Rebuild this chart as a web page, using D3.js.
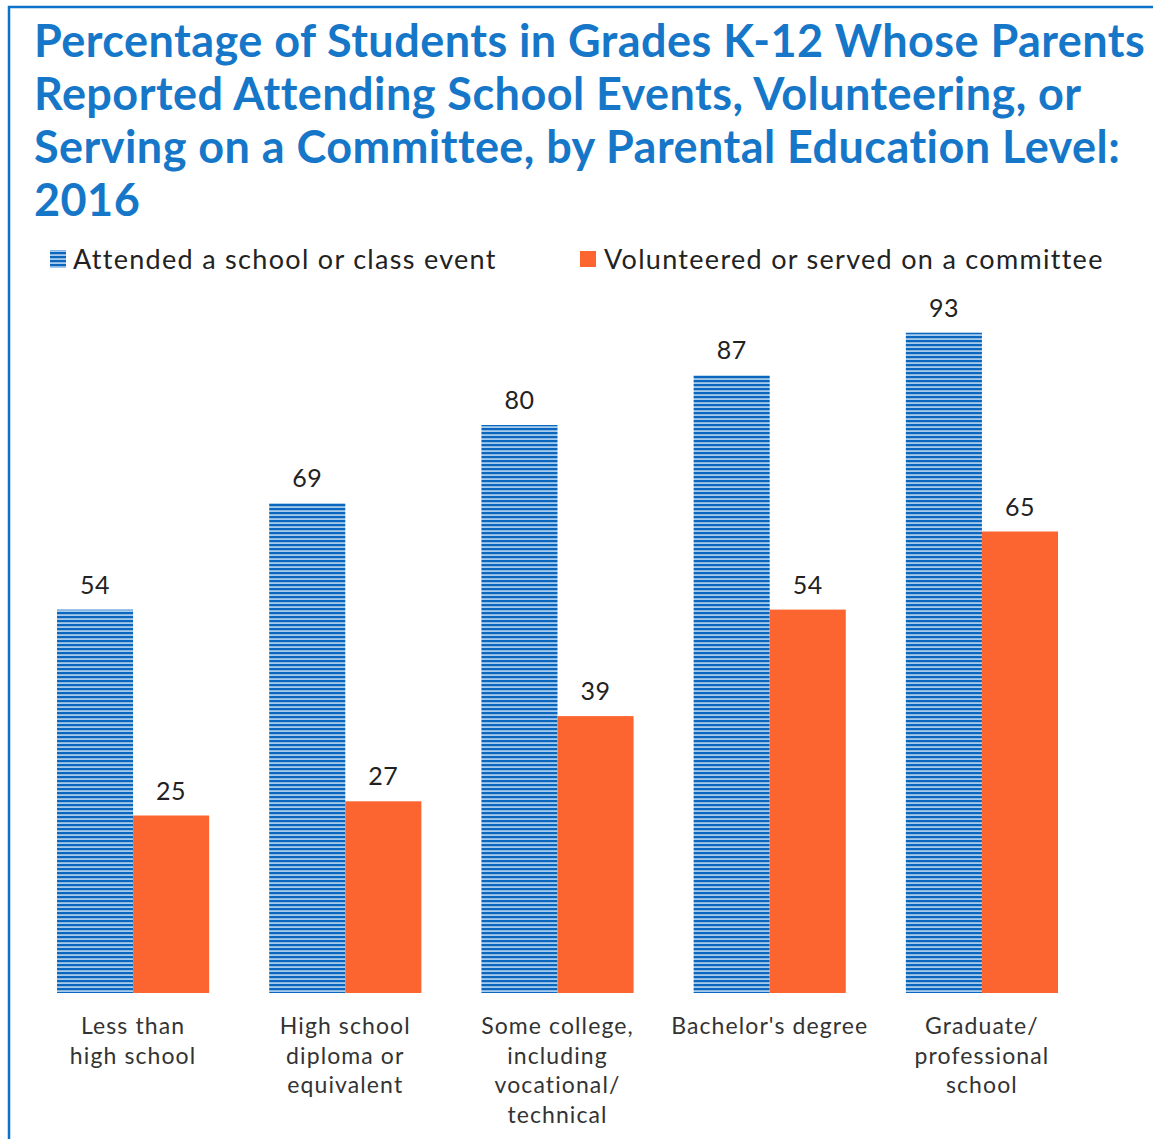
<!DOCTYPE html>
<html><head><meta charset="utf-8">
<script src="https://cdn.jsdelivr.net/npm/d3@7"></script>
<style>
html,body{margin:0;padding:0;background:#fff;}
svg{display:block;}
text{font-family:Lato,"Open Sans",sans-serif;}
</style></head>
<body>
<script>
const titleLines = ["Percentage of Students in Grades K-12 Whose Parents",
  "Reported Attending School Events, Volunteering, or",
  "Serving on a Committee, by Parental Education Level:",
  "2016"];
const categories = ["Less than|high school", "High school|diploma or|equivalent",
  "Some college,|including|vocational/|technical", "Bachelor's degree",
  "Graduate/|professional|school"];
const seriesNames = ["Attended a school or class event", "Volunteered or served on a committee"];
const attended = [54, 69, 80, 87, 93];
const volunteered = [25, 27, 39, 54, 65];

const W = 1153, H = 1139;
const svg = d3.select("body").append("svg").attr("width", W).attr("height", H);

const defs = svg.append("defs");
const pat = defs.append("pattern").attr("id","stripes").attr("patternUnits","userSpaceOnUse")
  .attr("width", 8).attr("height", 4);
pat.append("rect").attr("width",8).attr("height",4).attr("fill","#a6cbec");
pat.append("rect").attr("y",0).attr("width",8).attr("height",2.2).attr("fill","#0b66bd");

// frame
svg.append("rect").attr("x",9).attr("y",7).attr("width",W+20).attr("height",H+20)
  .attr("fill","none").attr("stroke","#0a72c8").attr("stroke-width",2.5);

// title
svg.append("g").selectAll("text").data(titleLines).join("text")
  .attr("x", 34).attr("y", (d,i)=>57 + i*53)
  .attr("fill","#1677c9").attr("font-weight","bold").attr("font-size",45)
  .attr("letter-spacing","0.45")
  .text(d=>d);

// legend
const leg = svg.append("g");
leg.append("rect").attr("x",50).attr("y",250).attr("width",16).attr("height",18).attr("fill","url(#stripes)");
leg.append("text").attr("x",73).attr("y",269).attr("font-size",27).attr("letter-spacing","1.3").attr("fill","#222").text(seriesNames[0]);
leg.append("rect").attr("x",580).attr("y",251).attr("width",16).attr("height",16).attr("fill","#fc6530");
leg.append("text").attr("x",604).attr("y",269).attr("font-size",27).attr("letter-spacing","1.3").attr("fill","#222").text(seriesNames[1]);

// scales
const x0 = d3.scaleBand().domain(d3.range(categories.length)).range([57, 1058]).paddingInner(0.283).paddingOuter(0);
const x1 = d3.scaleBand().domain([0,1]).range([0, x0.bandwidth()]);
const y = d3.scaleLinear().domain([0, 100]).range([993, 283]);

const series = [attended, volunteered];
const fills = ["url(#stripes)", "#fc6530"];
const g = svg.append("g");
series.forEach((vals, s) => {
  g.selectAll(".b"+s).data(vals).join("rect")
    .attr("x", (d,i)=>x0(i)+x1(s)).attr("y", d=>y(d))
    .attr("width", x1.bandwidth()).attr("height", d=>y(0)-y(d))
    .attr("fill", fills[s]);
  g.selectAll(".l"+s).data(vals).join("text")
    .attr("x", (d,i)=>x0(i)+x1(s)+x1.bandwidth()/2).attr("y", d=>y(d)-16)
    .attr("text-anchor","middle").attr("font-size",25).attr("letter-spacing","0.5").attr("fill","#222")
    .text(d=>d);
});

// category labels
const cg = svg.append("g");
categories.forEach((c,i)=>{
  const cx = x0(i)+x0.bandwidth()/2;
  const t = cg.append("text").attr("text-anchor","middle").attr("font-size",23)
    .attr("letter-spacing","1.1").attr("fill","#333")
    .attr("x", cx).attr("y", 1034);
  c.split("|").forEach((ln,j)=>{
    t.append("tspan").attr("x", cx).attr("y", 1034 + j*29.7).text(ln);
  });
});
</script>
</body></html>
